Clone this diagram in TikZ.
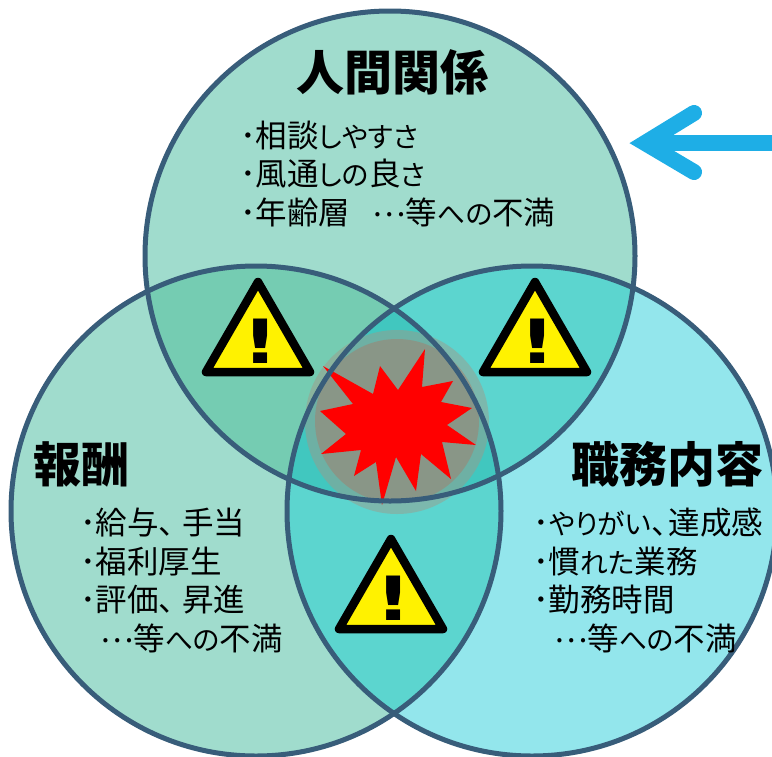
\documentclass[tikz,border=0pt]{standalone}
\usepackage{fontspec}
\setmainfont{Noto Sans CJK JP}[RawFeature=+palt]
\newfontfamily\bangfont{DejaVu Sans}
\newfontfamily\fullfont{Noto Sans CJK JP}[RawFeature=+fwid]
\newfontfamily\kn{Noto Sans CJK JP}[RawFeature=+palt,Scale=0.88]
\newcommand{\jpcomma}{{\fullfont 、}\hspace{-8pt}}
\newcommand{\jpdots}{\raisebox{8pt}{\fullfont …}}
\definecolor{ringline}{HTML}{385D7A}
\definecolor{topfill}{HTML}{A0DCCD}
\definecolor{rightfill}{HTML}{93E6EC}
\definecolor{pairA}{HTML}{75CCB2}
\definecolor{pairB}{HTML}{5CD5CF}
\definecolor{midfill}{HTML}{41C7BF}
\definecolor{arrowblue}{HTML}{1EAEE6}
\newcommand{\clipTop}{\clip (390,256) circle[radius=245pt];}
\newcommand{\clipLeft}{\clip (256,511) circle[radius=245pt];}

\begin{document}
\begin{tikzpicture}[x=1pt, y=-1pt,
    ring/.style={draw=ringline, line width=5pt},
    heading/.style={inner sep=0pt, anchor=west, font=\fontsize{48}{48}\selectfont\bfseries},
    points/.style={inner sep=0pt, anchor=north west, align=left,
      font=\fontsize{31.5}{38.5}\selectfont},
    warn/.pic={
      \draw[fill=yellow, line width=8.5pt, line join=round] (0,0) -- (52,90) -- (-52,90) -- cycle;
      \node[inner sep=0pt, font=\fontsize{61}{61}\selectfont\bfseries\bangfont] (-bang) at (3,59) {\scalebox{1.3}[1]{!}};
    }]
  \useasboundingbox (0,0) rectangle (772,756);

  \fill[topfill] (256,511) circle[radius=245pt];
  \fill[rightfill] (532,511) circle[radius=245pt];
  \fill[topfill] (390,256) circle[radius=245pt];
  \begin{scope}
    \clipTop
    \fill[pairA] (256,511) circle[radius=245pt];
    \fill[pairB] (532,511) circle[radius=245pt];
  \end{scope}
  \begin{scope}
    \clipLeft
    \fill[pairB] (532,511) circle[radius=245pt];
    \clipTop
    \fill[midfill] (532,511) circle[radius=245pt];
  \end{scope}

  \fill[fill={rgb,255:red,165;green,149;blue,133}, fill opacity=.45] (397,422) circle[radius=92pt];
  \fill[fill={rgb,255:red,170;green,120;blue,100}, fill opacity=.45] (397,421) circle[radius=82pt];
  \fill[red] (323,366) -- (373,394) -- (380,366) -- (398,390) -- (425,349) -- (422,387)
    -- (453,381) -- (441,402) -- (472,408) -- (447,425) -- (476,445) -- (442,442)
    -- (451,479) -- (421,454) -- (416,491) -- (396,457) -- (382,505) -- (376,462)
    -- (354,476) -- (361,450) -- (321,454) -- (346,434) -- (320,411) -- (353,404) -- cycle;

  \draw[ring] (390,256) circle[radius=245pt];
  \draw[ring] (256,511) circle[radius=245pt];
  \draw[ring] (532,511) circle[radius=245pt];

  \pic (warnA) at (258,282) {warn};
  \pic (warnB) at (535,282) {warn};
  \pic (warnC) at (391,539) {warn};

  \node[heading] (topname) at (296,72) {人間関係};
  \node[heading] (leftname) at (33,464) {報酬};
  \node[heading] (rightname) at (571,464) {職務内容};

  \node[points] (toplist) at (240,120.5) {･相談{\kn しやすさ}\\･風通{\kn しの}良{\kn さ}\\･年齢層\hspace{22pt}\jpdots 等{\kn への}不満};
  \node[points] (leftlist) at (80,508) {･給与\jpcomma 手当\\･福利厚生\\･評価\jpcomma 昇進\\\hspace{20pt}\jpdots 等{\kn への}不満};
  \node[points] (rightlist) at (533,508) {･{\kn やりがい}\jpcomma\hspace{-6pt}達成感\\･慣{\kn れた}業務\\･勤務時間\\\hspace{21pt}\jpdots 等{\kn への}不満};

  \coordinate (tail) at (772,143);
  \coordinate (head) at (645,143);
  \coordinate (barbA) at (694,113);
  \coordinate (barbB) at (694,172);
  \draw[arrowblue, line width=16pt] (tail) -- (head);
  \draw[arrowblue, line width=16pt, line cap=round, line join=miter] (barbA) -- (head) -- (barbB);
\end{tikzpicture}
\end{document}
